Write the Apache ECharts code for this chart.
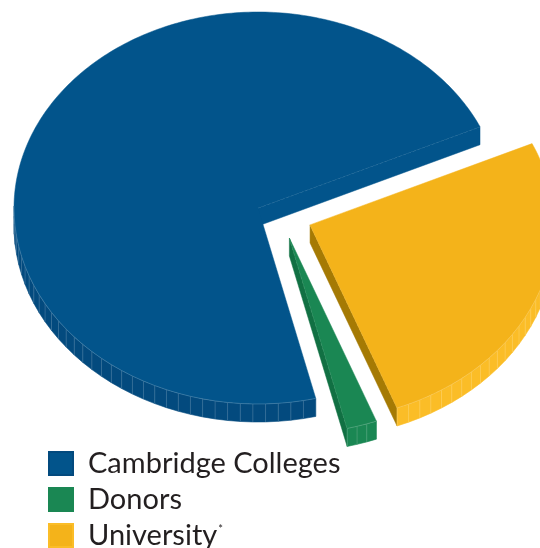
<!DOCTYPE html>
<html>
<head>
<meta charset="utf-8">
<script src="https://cdn.jsdelivr.net/npm/echarts@6/dist/echarts.min.js"></script>
<style>
  html, body { margin: 0; padding: 0; background: #fff; }
  #main { width: 540px; height: 548px; }
</style>
</head>
<body>
<div id="main"></div>
<script>
// 数据
const categories = ['Cambridge Colleges', 'Donors', 'University'];
const shares = [72, 2, 26];

// 样式
const topColors = ['#02548b', '#1a8753', '#f4b31a'];
const sideColors = ['#034a7e', '#1a8753', '#fbbd27'];
const faceColors = ['#02548b', '#117043', '#a57a04'];
const explodeDist = [0, 0.2, 0.23];
const explodeAngle = [0, -50, -22];

const startAngle = 24.5;
const cx = 258, cy = 208, rx = 244, ry = 196, depth = 18;
const rad = Math.PI / 180;

function sliceRange(i) {
    let total = shares.reduce((a, b) => a + b, 0);
    let a1 = startAngle;
    for (let j = 0; j < i; j++) a1 += 360 * shares[j] / total;
    return [a1, a1 + 360 * shares[i] / total];
}

function renderSlice(i) {
    let [a1, a2] = sliceRange(i);
    let ox = explodeDist[i] * rx * Math.cos(explodeAngle[i] * rad);
    let oy = -explodeDist[i] * ry * Math.sin(explodeAngle[i] * rad);
    let ax = cx + ox, ay = cy + oy;
    const pt = a => [ax + rx * Math.cos(a * rad), ay - ry * Math.sin(a * rad)];
    const dn = p => [p[0], p[1] + depth];
    let children = [];

    // 径向侧面
    if (Math.cos(a1 * rad) > 0) {
        let p = pt(a1);
        children.push({
            type: 'polygon',
            shape: { points: [[ax, ay], p, dn(p), [ax, ay + depth]] },
            style: { fill: faceColors[i], stroke: faceColors[i], lineWidth: 0.5 }
        });
        children.push({
            type: 'line',
            shape: { x1: ax, y1: ay, x2: p[0], y2: p[1] },
            style: { stroke: 'rgba(255,255,255,0.35)', lineWidth: 0.7, lineDash: [3, 2] }
        });
    }
    if (Math.cos(a2 * rad) < 0) {
        let p = pt(a2);
        children.push({
            type: 'polygon',
            shape: { points: [[ax, ay], p, dn(p), [ax, ay + depth]] },
            style: { fill: faceColors[i], stroke: faceColors[i], lineWidth: 0.5 }
        });
    }

    // 外侧面
    let n = Math.max(2, Math.ceil((a2 - a1) / 3));
    let step = (a2 - a1) / n;
    let seams = [];
    let rim = [];
    for (let k = 0; k < n; k++) {
        let s = a1 + k * step, e = s + step;
        let m = (s + e) / 2;
        if (Math.sin(m * rad) < 0) {
            let ps = pt(s), pe = pt(e);
            children.push({
                type: 'polygon',
                shape: { points: [ps, pe, dn(pe), dn(ps)] },
                style: { fill: sideColors[i], stroke: sideColors[i], lineWidth: 0.6 }
            });
            seams.push([ps, dn(ps)]);
            if (!rim.length) rim.push(ps);
            rim.push(pe);
        }
    }
    seams.forEach(sm => children.push({
        type: 'line',
        shape: { x1: sm[0][0], y1: sm[0][1], x2: sm[1][0], y2: sm[1][1] },
        style: { stroke: 'rgba(255,255,255,0.28)', lineWidth: 0.6 }
    }));

    // 顶面
    let top = [[ax, ay]];
    let m2 = Math.ceil(a2 - a1);
    for (let k = 0; k <= m2; k++) top.push(pt(a1 + (a2 - a1) * k / m2));
    children.push({
        type: 'polygon',
        shape: { points: top },
        style: { fill: topColors[i], stroke: topColors[i], lineWidth: 0.5 }
    });
    if (rim.length > 1) {
        children.push({
            type: 'polyline',
            shape: { points: rim },
            style: { stroke: 'rgba(255,255,255,0.3)', lineWidth: 0.6, fill: null }
        });
    }
    return { type: 'group', children: children };
}

var myChart = echarts.init(document.getElementById('main'));

var option = {
    animation: false,
    legend: {
        orient: 'vertical',
        left: 48,
        top: 449,
        height: 140,
        padding: 0,
        itemWidth: 24,
        itemHeight: 23,
        itemGap: 7,
        icon: 'rect',
        selectedMode: false,
        data: categories,
        formatter: function (name) {
            if (name == 'University') return '{n|University}{s|*}';
            return '{n|' + name + '}';
        },
        textStyle: {
            rich: {
                n: { fontFamily: 'Lato', fontSize: 29, color: '#231f20', padding: [0, 0, 0, 10], lineHeight: 23 },
                s: { fontFamily: 'Lato', fontSize: 11, color: '#231f20', verticalAlign: 'top', lineHeight: 23, padding: [0, 0, 10, 1] }
            }
        }
    },
    series: categories.map(function (name, i) {
        return {
            name: name,
            type: 'custom',
            coordinateSystem: 'none',
            itemStyle: { color: topColors[i], borderColor: sideColors[i], borderWidth: 1 },
            data: [[shares[i]]],
            renderItem: function () { return renderSlice(i); }
        };
    })
};
myChart.setOption(option);
</script>
</body>
</html>
